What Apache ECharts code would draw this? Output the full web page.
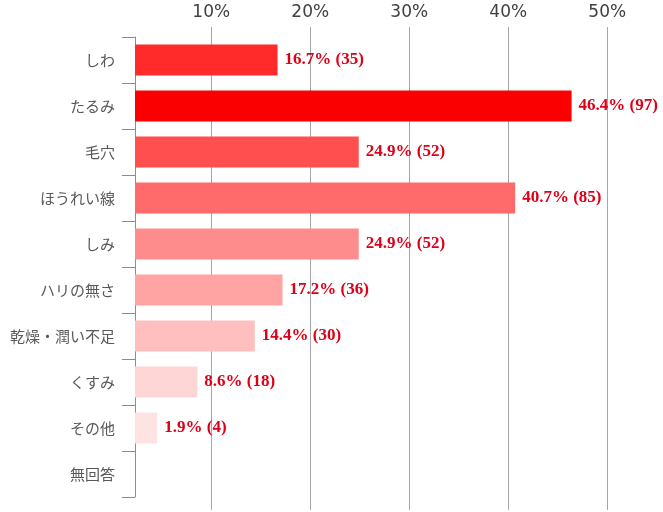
<!DOCTYPE html>
<html>
<head>
<meta charset="utf-8">
<script src="https://cdn.jsdelivr.net/npm/echarts@6/dist/echarts.min.js"></script>
<style>
html, body { margin: 0; padding: 0; background: #fff; }
#chart { width: 663px; height: 512px; }
</style>
</head>
<body>
<div id="chart"></div>
<script>
// 肌の悩み（複数回答）: 割合と人数
const categories = ['しわ', 'たるみ', '毛穴', 'ほうれい線', 'しみ', 'ハリの無さ', '乾燥・潤い不足', 'くすみ', 'その他', '無回答'];
const percents = [16.7, 46.4, 24.9, 40.7, 24.9, 17.2, 14.4, 8.6, 1.9, '-'];
const counts = [35, 97, 52, 85, 52, 36, 30, 18, 4, '-'];
const pctTicks = [10, 20, 30, 40, 50];

// bar fill, top to bottom
const barColors = ['#ff2b2b', '#fa0000', '#ff4f4f', '#ff6a6a', '#ff8c8c', '#ffa3a3', '#ffbfbf', '#ffd6d6', '#ffe3e3', '#ffeeee'];

const chart = echarts.init(document.getElementById('chart'));

const option = {
    animation: false,
    backgroundColor: '#fff',
    grid: [
        // bars + category axis
        { left: 135, top: 37, width: 521.73, height: 460 },
        // vertical grid lines and % labels (same scale, 0 sits behind the labels)
        { left: 112.23, top: 27, width: 544.5, bottom: 2 }
    ],
    xAxis: [
        { gridIndex: 0, type: 'value', min: 2.3, max: 55, show: false },
        {
            gridIndex: 1,
            type: 'value',
            position: 'top',
            min: 0,
            max: 55,
            interval: 10,
            axisLine: { show: false },
            axisTick: { show: false },
            axisLabel: {
                margin: 6,
                color: '#404040',
                fontSize: 17,
                fontFamily: 'DejaVu Sans',
                showMinLabel: false,
                showMaxLabel: false,
                formatter: v => pctTicks.indexOf(v) >= 0 ? v + '%' : ''
            },
            splitLine: {
                show: true,
                showMinLine: false,
                showMaxLine: false,
                lineStyle: { color: '#a6a6a6', width: 1 }
            }
        }
    ],
    yAxis: [
        {
            gridIndex: 0,
            type: 'category',
            data: categories,
            inverse: true,
            axisLine: { show: true, lineStyle: { color: '#8c8c8c' } },
            axisTick: { show: true, length: 13, lineStyle: { color: '#8c8c8c' } },
            axisLabel: {
                margin: 20,
                fontSize: 15,
                color: '#595959',
                fontFamily: 'Noto Sans CJK JP'
            }
        },
        { gridIndex: 1, type: 'value', show: false }
    ],
    series: [
        {
            type: 'bar',
            xAxisIndex: 0,
            yAxisIndex: 0,
            barWidth: 31,
            barMinHeight: 45,
            data: percents.map((v, i) => ({ value: v, itemStyle: { color: barColors[i] } })),
            label: {
                show: true,
                position: 'right',
                distance: 7,
                color: '#dc0018',
                fontFamily: 'Liberation Serif',
                fontWeight: 'bold',
                fontSize: 17,
                formatter: p => p.value + '% (' + counts[p.dataIndex] + ')'
            }
        }
    ]
};

chart.setOption(option);
</script>
</body>
</html>
